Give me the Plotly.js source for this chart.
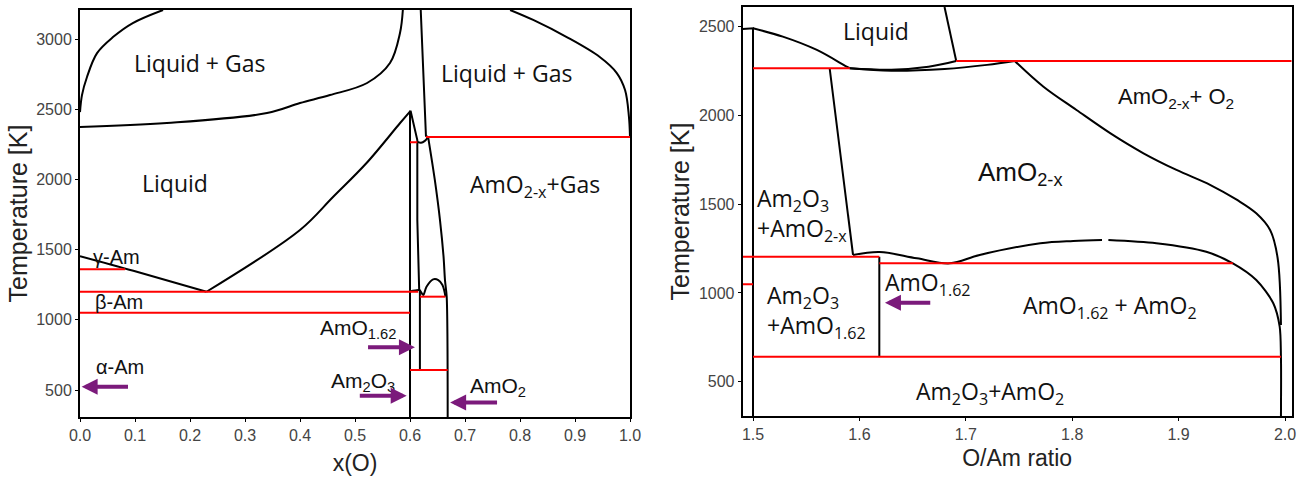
<!DOCTYPE html>
<html><head><meta charset="utf-8">
<script src="https://cdn.plot.ly/plotly-3.0.1.min.js"></script>
<style>body{margin:0;background:#fff}#chart{width:1306px;height:482px}</style>
</head><body><div id="chart"></div>
<script>
// ---------- LEFT PANEL : x(O) vs T ----------
const L_gasUpperX = [0, 0.0036, 0.0127, 0.031, 0.06, 0.096, 0.151];
const L_gasUpperT = [2480, 2601, 2730, 2900, 3014, 3114, 3207];
const L_gasLowerX = [0, 0.158, 0.34, 0.4, 0.4545, 0.522, 0.5636, 0.5818, 0.587];
const L_gasLowerT = [2373, 2402, 2473, 2544, 2601, 2687, 2829, 3043, 3207];
const L_gasRightX = [0.782, 0.824, 0.885, 0.945, 0.976, 0.991, 0.998, 1.0];
const L_gasRightT = [3207, 3136, 3014, 2872, 2758, 2637, 2450, 2302];
const L_amLiqX = [0, 0.097, 0.23];
const L_amLiqT = [1454, 1350, 1200];
const L_oxLiqX = [0.23, 0.4, 0.46, 0.521, 0.582, 0.601];
const L_oxLiqT = [1200, 1640, 1875, 2117, 2402, 2489];
const L_am2o3X = [0.6, 0.6];
const L_am2o3T = [308, 2489];
const L_peakRightX = [0.601, 0.6133, 0.6133, 0.6167];
const L_peakRightT = [2489, 2281, 1711, 1212];
const L_topHumpX = [0.6133, 0.620, 0.627, 0.633];
const L_topHumpT = [2268, 2262, 2275, 2302];
const L_gasMidX = [0.6195, 0.629, 0.633];
const L_gasMidT = [3207, 2310, 2302];
const L_dioxX = [0.633, 0.645, 0.6545, 0.661, 0.6636, 0.6667, 0.6685];
const L_dioxT = [2302, 2000, 1711, 1450, 1283, 1165, 308];
const L_domeX = [0.6, 0.6167, 0.619, 0.624, 0.630, 0.642, 0.6515, 0.659, 0.6645];
const L_domeT = [1202, 1212, 1205, 1177, 1236, 1288, 1283, 1248, 1165];
const L_am162X = [0.618, 0.618];
const L_am162T = [1212, 642];
// red isotherms (left)
const L_isoT  = [1360, 1200, 1050, 2265, 2302, 1165, 642];
const L_isoX0 = [0, 0, 0, 0.6, 0.629, 0.618, 0.6];
const L_isoX1 = [0.082, 0.615, 0.6, 0.6133, 1.0, 0.6645, 0.6685];

// ---------- RIGHT PANEL : O/Am ratio vs T ----------
const R_am2o3X = [1.5, 1.5, 1.4903];
const R_am2o3T = [307, 2491, 2487];
const R_liqX = [1.5, 1.528, 1.560, 1.588, 1.591];
const R_liqT = [2491, 2444, 2369, 2275, 2266];
const R_liqLowX = [1.591, 1.63, 1.665, 1.691];
const R_liqLowT = [2266, 2258, 2275, 2307];
const R_solX = [1.591, 1.63, 1.68, 1.72, 1.746];
const R_solT = [2266, 2252, 2262, 2285, 2307];
const R_liqTopX = [1.680, 1.691];
const R_liqTopT = [2611, 2307];
const R_slantX = [1.572, 1.594];
const R_slantT = [2266, 1214];
const R_domeAX = [1.594, 1.619, 1.654, 1.685, 1.713, 1.770, 1.801, 1.828];
const R_domeAT = [1214, 1231, 1195, 1167, 1214, 1280, 1293, 1298];
const R_domeBX = [1.834, 1.879, 1.926, 1.951, 1.973, 1.989, 1.995, 1.9962, 1.9962];
const R_domeBT = [1298, 1280, 1232, 1167, 1073, 942, 810, 641, 307];
const R_o2X = [1.746, 1.773, 1.804, 1.836, 1.867, 1.898, 1.930, 1.955, 1.973, 1.986, 1.993, 1.9962];
const R_o2T = [2307, 2162, 2031, 1899, 1787, 1693, 1608, 1524, 1449, 1355, 1200, 820];
const R_am162X = [1.6187, 1.6187];
const R_am162T = [1204, 641];
// red isotherms (right)
const R_isoT  = [2266, 2307, 1204, 1049, 1167, 641];
const R_isoX0 = [1.5, 1.691, 1.4903, 1.4903, 1.6187, 1.5];
const R_isoX1 = [1.591, 2.0063, 1.6187, 1.5, 1.951, 1.9962];

// tick labels
const L_xTicks = [0, 0.1, 0.2, 0.3, 0.4, 0.5, 0.6, 0.7, 0.8, 0.9, 1.0];
const L_yTicks = [500, 1000, 1500, 2000, 2500, 3000];
const R_xTicks = [1.5, 1.6, 1.7, 1.8, 1.9, 2.0];
const R_yTicks = [500, 1000, 1500, 2000, 2500];

const BLACK = '#000', RED = '#ff0000', PURPLE = '#7b1a7b';
const traces = [];
function line(x, y, xa, ya, color, w, smooth) {
  const ln = {color: color, width: w};
  if (smooth) { ln.shape = 'spline'; ln.smoothing = smooth; }
  traces.push({x: x, y: y, xaxis: xa, yaxis: ya, mode: 'lines', type: 'scatter',
    line: ln, hoverinfo: 'skip', showlegend: false});
}
// left black curves [x, y, smoothing]
[[L_gasUpperX, L_gasUpperT, 1], [L_gasLowerX, L_gasLowerT, 1], [L_gasRightX, L_gasRightT, 1],
 [L_amLiqX, L_amLiqT, 1], [L_oxLiqX, L_oxLiqT, 1], [L_am2o3X, L_am2o3T, 0], [L_peakRightX, L_peakRightT, 0],
 [L_topHumpX, L_topHumpT, 1], [L_gasMidX, L_gasMidT, 0], [L_dioxX, L_dioxT, 0.8],
 [L_domeX, L_domeT, 1], [L_am162X, L_am162T, 0]]
 .forEach(p => line(p[0], p[1], 'x', 'y', BLACK, 2, p[2]));
L_isoT.forEach((t, i) => line([L_isoX0[i], L_isoX1[i]], [t, t], 'x', 'y', RED, 2, 0));
// right black curves
[[R_am2o3X, R_am2o3T, 0], [R_liqX, R_liqT, 1], [R_liqLowX, R_liqLowT, 1], [R_solX, R_solT, 1],
 [R_liqTopX, R_liqTopT, 0], [R_slantX, R_slantT, 0], [R_domeAX, R_domeAT, 1], [R_domeBX, R_domeBT, 0.8],
 [R_o2X, R_o2T, 1], [R_am162X, R_am162T, 0]]
 .forEach(p => line(p[0], p[1], 'x2', 'y2', BLACK, 2, p[2]));
R_isoT.forEach((t, i) => line([R_isoX0[i], R_isoX1[i]], [t, t], 'x2', 'y2', RED, 2, 0));

const CAL = 'Open Sans, sans-serif';
const ARI = 'Liberation Sans, Arial, sans-serif';
const TXT = '#111';
function lab(x, y, text, xr, yr, font, size, extra) {
  return Object.assign({x: x, y: y, xref: xr, yref: yr, text: text, showarrow: false,
    font: {family: font, size: size, color: TXT}}, extra || {});
}
function arrow(x, y, ax, ay, xr, yr) {
  return {x: x, y: y, ax: ax, ay: ay, xref: xr, yref: yr, axref: xr, ayref: yr, text: '',
    showarrow: true, arrowhead: 2, arrowsize: 0.8, arrowwidth: 4, arrowcolor: PURPLE, standoff: 0, startstandoff: 0};
}
const annotations = [
  lab(0.218, 2829, 'Liquid + Gas', 'x', 'y', CAL, 23),
  lab(0.776, 2755, 'Liquid + Gas', 'x', 'y', CAL, 23),
  lab(0.173, 1977, 'Liquid', 'x', 'y', CAL, 23),
  lab(0.827, 1960, 'AmO<sub>2-x</sub>+Gas', 'x', 'y', CAL, 23),
  lab(0.067, 1450, 'γ-Am', 'x', 'y', ARI, 20),
  lab(0.070, 1129, 'β-Am', 'x', 'y', ARI, 20),
  lab(0.073, 666, 'α-Am', 'x', 'y', ARI, 20),
  lab(0.506, 932, 'AmO<sub>1.62</sub>', 'x', 'y', ARI, 21),
  lab(0.515, 559, 'Am<sub>2</sub>O<sub>3</sub>', 'x', 'y', ARI, 21),
  lab(0.760, 523, 'AmO<sub>2</sub>', 'x', 'y', ARI, 21),
  arrow(0.003, 523, 0.09, 523, 'x', 'y'),
  arrow(0.609, 804, 0.521, 804, 'x', 'y'),
  arrow(0.594, 460, 0.506, 460, 'x', 'y'),
  arrow(0.673, 412, 0.761, 412, 'x', 'y'),

  lab(1.616, 2478, 'Liquid', 'x2', 'y2', CAL, 23),
  lab(1.898, 2097, 'AmO<sub>2-x</sub>+ O<sub>2</sub>', 'x2', 'y2', ARI, 22),
  lab(1.751, 1674, 'AmO<sub>2-x</sub>', 'x2', 'y2', ARI, 26),
  lab(1.5015, 1440, 'Am<sub>2</sub>O<sub>3</sub><br>+AmO<sub>2-x</sub>', 'x2', 'y2', CAL, 23, {xanchor: 'left', align: 'left'}),
  lab(1.511, 898, 'Am<sub>2</sub>O<sub>3</sub><br>+AmO<sub>1.62</sub>', 'x2', 'y2', CAL, 23, {xanchor: 'left', align: 'left'}),
  lab(1.622, 1054, 'AmO<sub>1.62</sub>', 'x2', 'y2', CAL, 23, {xanchor: 'left'}),
  lab(1.8355, 922, 'AmO<sub>1.62</sub> + AmO<sub>2</sub>', 'x2', 'y2', CAL, 23),
  lab(1.7227, 438, 'Am<sub>2</sub>O<sub>3</sub>+AmO<sub>2</sub>', 'x2', 'y2', CAL, 23),
  arrow(1.624, 945, 1.668, 945, 'x2', 'y2')
];

const tickFont = {family: ARI, size: 16, color: '#444'};
function ax(domain, range, tickvals, fmt, title, tsize, standoff, anchor) {
  return {domain: domain, range: range, tickvals: tickvals, tickformat: fmt,
    showline: true, mirror: true, linecolor: '#000', linewidth: 2, showgrid: false, zeroline: false,
    ticks: 'outside', ticklen: 3, tickcolor: '#000', tickfont: tickFont, anchor: anchor,
    title: {text: title, font: {family: ARI, size: tsize, color: '#222'}, standoff: standoff}};
}
const layout = {
  width: 1306, height: 482, margin: {l: 0, r: 0, t: 0, b: 0},
  paper_bgcolor: '#fff', plot_bgcolor: '#fff', showlegend: false,
  xaxis: ax([80/1306, 630/1306], [0, 1], L_xTicks, '.1f', 'x(O)', 23, 12, 'y'),
  yaxis: ax([1 - 417/482, 1 - 10/482], [308, 3207], L_yTicks, 'd', 'Temperature [K]', 25, 1, 'x'),
  xaxis2: ax([742.7/1306, 1291.7/1306], [1.4903, 2.0063], R_xTicks, '.1f', 'O/Am ratio', 23, 8, 'y2'),
  yaxis2: ax([1 - 416/482, 1 - 7/482], [307, 2611], R_yTicks, 'd', 'Temperature [K]', 25, 2, 'x2'),
  annotations: annotations
};
Plotly.newPlot('chart', traces, layout, {displayModeBar: false, staticPlot: true});
</script></body></html>
